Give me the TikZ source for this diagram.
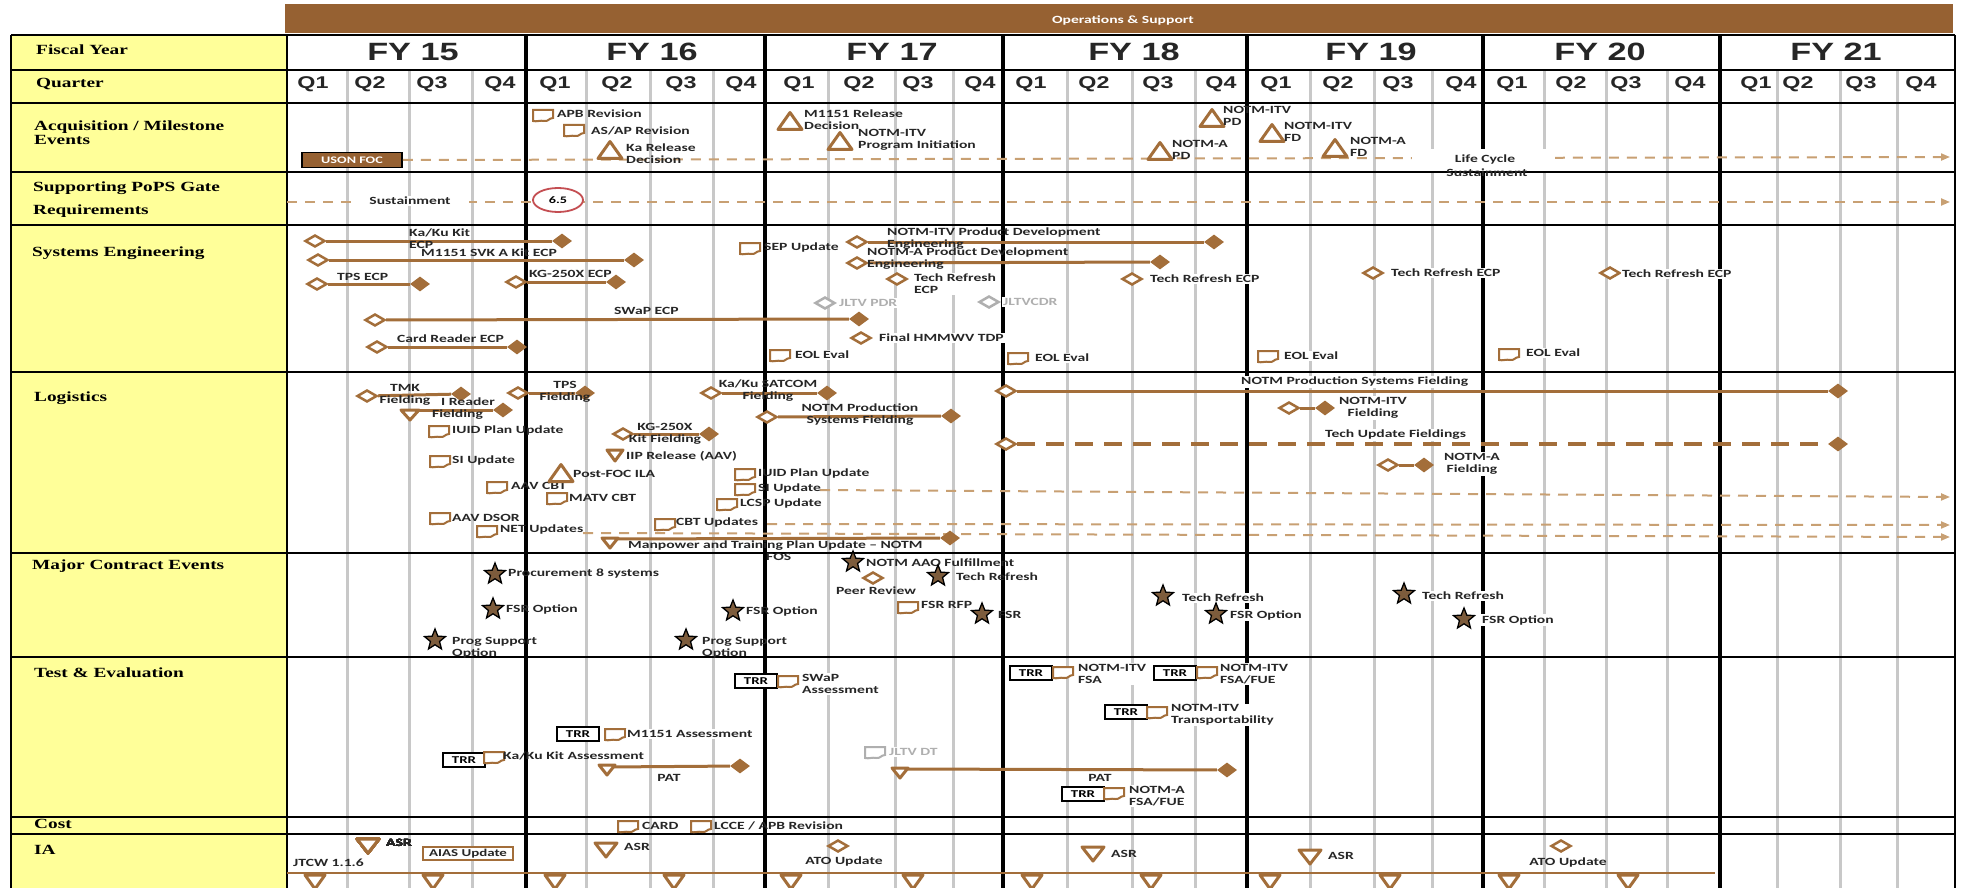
\documentclass[tikz,border=0pt]{standalone}
\usepackage{fontspec}
\usetikzlibrary{shapes.geometric,arrows.meta}
\newfontfamily\labfont[FakeStretch=1.42]{Carlito}
\newfontfamily\hdfont[FakeStretch=1.37]{Liberation Sans}
\newfontfamily\rowfont[FakeStretch=1.38]{Liberation Serif}
\definecolor{mbrown}{RGB}{163,110,58}
\definecolor{barbrown}{RGB}{150,97,50}
\definecolor{dtan}{RGB}{200,160,115}
\definecolor{sfill}{RGB}{125,92,60}
\definecolor{hyellow}{RGB}{255,255,153}
\definecolor{qgray}{RGB}{200,200,200}
\definecolor{ggray}{RGB}{175,175,175}
\definecolor{ltxt}{RGB}{38,38,38}
\definecolor{redc}{RGB}{196,78,82}
\tikzset{
  lab/.style={font=\labfont\bfseries\fontsize{11}{12}\selectfont, text=ltxt, inner sep=1pt, anchor=west, align=left},
  labc/.style={lab, anchor=center, align=center},
  wlab/.style={lab, fill=white},
  wlabc/.style={labc, fill=white},
  glab/.style={lab, text=ggray, fill=white},
  rowlab/.style={font=\rowfont\bfseries\fontsize{14}{14}\selectfont, anchor=west, align=left, inner sep=0pt},
  fylab/.style={font=\hdfont\bfseries\fontsize{25}{28}\selectfont, text=black!85},
  qlab/.style={font=\hdfont\bfseries\fontsize{17}{20}\selectfont, text=black!85},
  odia/.style={diamond, draw=mbrown, line width=2.5pt, fill=white, minimum width=20pt, minimum height=12pt, inner sep=0pt},
  gdia/.style={odia, draw=ggray},
  fdia/.style={diamond, fill=mbrown, minimum width=20pt, minimum height=15pt, inner sep=0pt},
  span/.style={draw=mbrown, line width=3pt},
  tdash/.style={draw=dtan, line width=2pt, dash pattern=on 10pt off 8pt},
  tdarrow/.style={tdash, -{Triangle[length=9pt,width=7pt]}},
  fdash/.style={draw=mbrown, line width=3.5pt, dash pattern=on 18pt off 11pt},
  evstar/.style={star, star points=5, star point ratio=2.3, fill=sfill, draw=black, line width=1.3pt, minimum size=22pt, inner sep=0pt},
  trrbox/.style={draw=black, line width=2pt, fill=white, minimum width=42pt, minimum height=14pt, inner sep=0pt, font=\labfont\bfseries\fontsize{10.5}{12}\selectfont},
  usbox/.style={fill=barbrown, draw=black, line width=1.5pt, minimum width=100pt, minimum height=15pt, inner sep=0pt, text=white, font=\labfont\bfseries\fontsize{10}{12}\selectfont},
  aiasbox/.style={draw=mbrown, line width=1.5pt, fill=white, minimum width=90pt, minimum height=13pt, inner sep=0pt, font=\labfont\bfseries\fontsize{10.5}{12}\selectfont, text=ltxt},
  tri/.style={draw=mbrown, line width=3pt, fill=white, line join=round},
  doc/.style={draw=mbrown, line width=2pt, fill=white},
  gdoc/.style={doc, draw=ggray},
  hline/.style={draw=black, line width=2.5pt},
  yline/.style={draw=black, line width=4pt},
  qline/.style={draw=qgray, line width=3pt},
  thin/.style={draw=mbrown, line width=2pt},
}
% up triangle centred at (x,y)
\newcommand\mUp[2]{\draw[tri, shift={(#1,#2)}] (-12,8.5) -- (0,-8.5) -- (12,8.5) -- cycle;}
% down triangle hanging from its top edge at (x,y): half width, height
\newcommand\mDown[4]{\draw[tri, shift={(#1,#2)}] (-#3,0) -- (#3,0) -- (0,#4) -- cycle;}
% document icon centred at (x,y)
\newcommand\mDoc[3][doc]{\draw[#1, shift={(#2,#3)}] (-10,-5) -- (10,-5) -- (10,3) .. controls (6,3) and (5,7) .. (1,6) .. controls (-3,5) and (-6,7) .. (-10,6) -- cycle;}

\begin{document}
\begin{tikzpicture}[x=1pt,y=-1pt]
\useasboundingbox (0,0) rectangle (1971,888);

% ---------- frame ----------
\fill[barbrown] (285,4) rectangle (1953,33);
\node[lab, anchor=center, text=white] (ops) at (1123,20) {Operations \& Support};
\fill[hyellow] (11,35) rectangle (287,888);
\foreach \q in {347,409,472,586,650,713,828,895,953,1067,1132,1195,1310,1374,1432,1544,1606,1667,1777,1840,1897}
  \draw[qline] (\q,70) -- (\q,888);
\foreach \r in {35,70,103,172,225,372,553,657,817,834}
  \draw[hline] (11,\r) -- (1955,\r);
\foreach \v in {11,287,1955}
  \draw[hline] (\v,35) -- (\v,888);
\foreach \v in {526,765,1003,1247,1483,1720}
  \draw[yline] (\v,35) -- (\v,888);

\foreach \c/\t [count=\i] in {413/15,652/16,892/17,1134/18,1371/19,1600/20,1836/21}
  \node[fylab] (fy\i) at (\c,52) {FY \t};
\foreach \c/\t [count=\i] in {313/1,370/2,432/3,500/4,555/1,617/2,681/3,741/4,799/1,859/2,918/3,980/4,1031/1,1094/2,1158/3,1221/4,1276/1,1338/2,1398/3,1461/4,1512/1,1571/2,1626/3,1690/4,1756/1,1798/2,1861/3,1921/4}
  \node[qlab] (q\i) at (\c,84) {Q\t};

\node[rowlab] (hFY) at (36,50) {Fiscal Year};
\node[rowlab] (hQ) at (36,84) {Quarter};
\node[rowlab] (hAcq) at (34,133) {Acquisition / Milestone\\Events};
\node[rowlab] (hPoPS) at (33,188) {Supporting PoPS Gate};
\node[rowlab] (hReq) at (33,211) {Requirements};
\node[rowlab] (hSE) at (32,253) {Systems Engineering};
\node[rowlab] (hLog) at (34,398) {Logistics};
\node[rowlab] (hMCE) at (32,566) {Major Contract Events};
\node[rowlab] (hTE) at (34,673) {Test \& Evaluation};
\node[rowlab] (hCost) at (34,824) {Cost};
\node[rowlab] (hIA) at (34,850) {IA};

% ---------- acquisition / milestone events ----------
\node[usbox] (uson) at (352,160) {USON FOC};
\coordinate (acqEnd) at (1950,157);
\draw[tdarrow] (uson.east) -- (acqEnd);
\node[fill=white, minimum width=143pt, minimum height=22pt, inner sep=0pt] (lcbg) at (1483.5,160) {};
\node[labc] (lc1) at (1485,160) {Life Cycle};
\node[labc] (lc2) at (1487,173) {Sustainment};
\mDoc{543}{115}
\node[lab] (apb) at (556,114) {APB Revision};
\mDoc{574}{130}
\node[lab] (asap) at (590,131) {AS/AP Revision};
\mUp{610}{150}
\node[lab] (kard) at (625,154) {Ka Release\\Decision};
\mUp{790}{121}
\node[lab] (mrd) at (803,120) {M1151 Release\\Decision};
\mUp{840}{141}
\node[lab] (itvpi) at (857,140) {NOTM-ITV\\Program Initiation};
\mUp{1212}{118}
\node[lab] (itvpd) at (1222,116) {NOTM-ITV\\PD};
\mUp{1272}{133}
\node[lab] (itvfd) at (1283,132) {NOTM-ITV\\FD};
\mUp{1160}{151}
\node[lab] (apd) at (1171,150) {NOTM-A\\PD};
\mUp{1335}{148}
\node[lab] (afd) at (1349,147) {NOTM-A\\FD};

% ---------- supporting PoPS gate requirements ----------
\coordinate (popsS) at (287,202);
\coordinate (popsE) at (1950,202);
\draw[tdarrow] (popsS) -- (popsE);
\node[labc, fill=white, minimum width=118pt] (sust) at (410,201) {Sustainment};
\node[ellipse, draw=redc, line width=1.8pt, fill=white, minimum width=50pt, minimum height=24pt, inner sep=0pt, font=\labfont\bfseries\fontsize{10}{12}\selectfont] (g65) at (558,200) {6.5};

% ---------- systems engineering ----------
\node[odia] (kk1) at (315,241) {};
\node[fdia] (kk2) at (562,241) {};
\draw[span] (kk1) -- (kk2);
\node[lab] (kkl) at (408,239) {Ka/Ku Kit\\ECP};
\node[odia] (sv1) at (318,260) {};
\node[fdia] (sv2) at (634,260) {};
\draw[span] (sv1) -- (sv2);
\node[lab] (svl) at (420,253) {M1151 SVK A Kit ECP};
\node[odia] (tp1) at (317,284) {};
\node[fdia] (tp2) at (420,284) {};
\draw[span] (tp1) -- (tp2);
\node[lab] (tpl) at (336,277) {TPS ECP};
\node[odia] (kg1) at (516,282) {};
\node[fdia] (kg2) at (616,282) {};
\draw[span] (kg1) -- (kg2);
\node[lab] (kgl) at (528,274) {KG-250X ECP};
\node[odia] (sw1) at (375,320) {};
\node[fdia] (sw2) at (859,319) {};
\draw[span] (sw1) -- (sw2);
\node[lab] (swl) at (613,311) {SWaP ECP};
\node[odia] (cr1) at (377,347) {};
\node[fdia] (cr2) at (517,347) {};
\draw[span] (cr1) -- (cr2);
\node[lab] (crl) at (396,339) {Card Reader ECP};
\mDoc{750}{248}
\node[lab] (sep) at (763,248) {SEP Update};
\node[odia] (ip1) at (857,242) {};
\node[fdia] (ip2) at (1214,242) {};
\draw[span] (ip1) -- (ip2);
\node[lab] (ipl) at (886,239) {NOTM-ITV Product Development\\Engineering};
\node[odia] (ap1) at (857,263) {};
\node[fdia] (ap2) at (1160,262) {};
\draw[span] (ap1) -- (ap2);
\node[lab] (apl) at (866,259) {NOTM-A Product Development\\Engineering};
\node[odia] (tr17) at (897,279) {};
\node[wlab] (tr17l) at (913,284) {Tech Refresh\\ECP};
\node[gdia] (pdr) at (825,303) {};
\node[glab] (pdrl) at (838,303) {JLTV PDR};
\node[gdia] (cdr) at (989,302) {};
\node[glab] (cdrl) at (1002,302) {JLTVCDR};
\node[odia] (hm) at (861,338) {};
\node[wlab] (hml) at (878,338) {Final HMMWV TDP};
\mDoc{780}{355}
\node[wlab] (eol17) at (794,355) {EOL Eval};
\mDoc{1018}{358}
\node[wlab] (eol18) at (1034,358) {EOL Eval};
\mDoc{1268}{356}
\node[wlab] (eol19) at (1283,356) {EOL Eval};
\mDoc{1509}{354}
\node[wlab] (eol20) at (1525,353) {EOL Eval};
\node[odia] (tr18) at (1132,279) {};
\node[wlab] (tr18l) at (1149,279) {Tech Refresh ECP};
\node[odia] (tr19) at (1373,273) {};
\node[wlab] (tr19l) at (1390,273) {Tech Refresh ECP};
\node[odia] (tr20) at (1610,273) {};
\node[wlab] (tr20l) at (1621,274) {Tech Refresh ECP};

% ---------- logistics ----------
\coordinate (netS) at (583,533);
\coordinate (netE) at (1950,537);
\draw[tdarrow] (netS) -- (netE);
\coordinate (cbtS) at (767,524);
\coordinate (cbtE) at (1950,525);
\draw[tdarrow] (cbtS) -- (cbtE);
\coordinate (siS) at (820,490);
\coordinate (siE) at (1950,497);
\draw[tdarrow] (siS) -- (siE);

\node[odia] (tm1) at (367,396) {};
\node[fdia] (tm2) at (461,394) {};
\draw[span] (tm1) -- (tm2);
\node[labc] (tml) at (405,395) {TMK\\Fielding};
\coordinate (ir1) at (410,410);
\node[fdia] (ir2) at (503,410) {};
\draw[span] (ir1) -- (ir2);
\mDown{410}{410}{9}{10}
\node[lab] (irl) at (431,409) {\hspace*{9pt}I Reader\\Fielding};
\node[odia] (tf1) at (518,393) {};
\node[fdia] (tf2) at (585,393) {};
\draw[span] (tf1) -- (tf2);
\node[labc] (tfl) at (565,392) {TPS\\Fielding};
\mDoc{439}{431}
\node[lab] (iuid15) at (451,431) {IUID Plan Update};
\mDoc{440}{461}
\node[lab] (si15) at (451,461) {SI Update};
\mDoc{497}{487}
\node[lab] (aavc) at (510,486) {AAV CBT};
\mDoc{440}{518}
\node[lab] (aavd) at (451,518) {AAV DSOR};
\mDoc{487}{531}
\node[lab] (net) at (499,530) {NET Updates};
\node[odia] (kf1) at (623,434) {};
\node[fdia] (kf2) at (709,434) {};
\draw[span] (kf1) -- (kf2);
\node[labc] (kfl) at (665,434) {KG-250X\\Kit Fielding};
\mDown{615}{450}{8}{11}
\node[lab] (iip) at (625,456) {IIP Release (AAV)};
\mUp{561}{473}
\node[lab] (pfoc) at (572,474) {Post-FOC ILA};
\mDoc{557}{498}
\node[lab] (matv) at (568,498) {MATV CBT};
\node[odia] (sc1) at (711,393) {};
\node[fdia] (sc2) at (827,393) {};
\draw[span] (sc1) -- (sc2);
\node[labc] (scl) at (768,391) {Ka/Ku SATCOM\\Fielding};
\node[odia] (pf1) at (767,417) {};
\node[fdia] (pf2) at (951,416) {};
\draw[span] (pf1) -- (pf2);
\node[labc] (pfl) at (860,415) {NOTM Production\\Systems Fielding};
\mDoc{745}{474}
\node[lab] (iuid17) at (757,474) {IUID Plan Update};
\mDoc{745}{489}
\node[lab] (si17) at (757,489) {SI Update};
\mDoc{727}{504}
\node[lab] (lcsp) at (739,504) {LCSP Update};
\mDoc{665}{524}
\node[lab] (cbt) at (675,523) {CBT Updates};
\coordinate (mp1) at (610,539);
\node[fdia] (mp2) at (950,538) {};
\draw[span] (mp1) -- (mp2);
\mDown{610}{538}{8}{10}
\node[lab] (mpl) at (627,546) {Manpower and Training Plan Update \textendash{} NOTM};
\node[lab] (fos) at (765,557) {FOS};
\node[odia] (np1) at (1006,391) {};
\node[fdia] (np2) at (1838,391) {};
\draw[span] (np1) -- (np2);
\node[wlab] (npl) at (1240,382) {NOTM Production Systems Fielding};
\node[odia] (vf1) at (1289,408) {};
\node[fdia] (vf2) at (1325,408) {};
\draw[span] (vf1) -- (vf2);
\node[wlabc] (vfl) at (1373,408) {NOTM-ITV\\Fielding};
\node[odia] (tu1) at (1006,444) {};
\node[fdia] (tu2) at (1838,444) {};
\draw[fdash] (tu1) -- (tu2);
\node[wlab] (tul) at (1324,435) {Tech Update Fieldings};
\node[odia] (af1) at (1388,465) {};
\node[fdia] (af2) at (1424,465) {};
\draw[span] (af1) -- (af2);
\node[wlabc] (afl) at (1472,464) {NOTM-A\\Fielding};

% ---------- major contract events ----------
\node[evstar] (s1) at (495,574) {};
\node[lab] (s1l) at (507,574) {Procurement 8 systems};
\node[evstar] (s2) at (493,609) {};
\node[lab] (s2l) at (505,609) {FSR Option};
\node[evstar] (s3) at (435,640) {};
\node[lab] (s3l) at (451,648) {Prog Support\\Option};
\node[evstar] (s4) at (733,611) {};
\node[lab] (s4l) at (745,611) {FSR Option};
\node[evstar] (s5) at (686,640) {};
\node[lab] (s5l) at (701,648) {Prog Support\\Option};
\node[evstar] (s6) at (853,562) {};
\node[lab] (s6l) at (865,563) {NOTM AAO Fulfillment};
\node[odia] (peer) at (873,578) {};
\node[labc] (peerl) at (876,591) {Peer Review};
\node[evstar] (s7) at (938,576) {};
\node[lab] (s7l) at (955,577) {Tech Refresh};
\mDoc{908}{607}
\node[lab] (rfp) at (920,605) {FSR RFP};
\node[evstar] (s8) at (982,614) {};
\node[lab] (s8l) at (997,615) {FSR};
\node[evstar] (s9) at (1163,596) {};
\node[wlab] (s9l) at (1181,598) {Tech Refresh};
\node[evstar] (s10) at (1216,614) {};
\node[wlab] (s10l) at (1229,615) {FSR Option};
\node[evstar] (s11) at (1404,594) {};
\node[wlab] (s11l) at (1421,596) {Tech Refresh};
\node[evstar] (s12) at (1464,619) {};
\node[wlab] (s12l) at (1481,620) {FSR Option};

% ---------- test & evaluation ----------
\node[trrbox] (t1) at (756,681) {TRR};
\mDoc{788}{681}
\node[wlab] (t1l) at (801,684) {SWaP\\Assessment};
\node[trrbox] (t2) at (578,734) {TRR};
\mDoc{615}{734}
\node[wlab] (t2l) at (626,734) {M1151 Assessment};
\node[trrbox] (t3) at (464,760) {TRR};
\mDoc{494}{757}
\node[lab] (t3l) at (502,756) {Ka/Ku Kit Assessment};
\coordinate (pa1) at (607,767);
\node[fdia] (pa2) at (740,766) {};
\draw[span] (pa1) -- (pa2);
\mDown{607}{765}{8}{10}
\node[labc] (pal) at (669,778) {PAT};
\mDoc[gdoc]{875}{752}
\node[glab] (jdt) at (888,752) {JLTV DT};
\coordinate (pb1) at (900,769);
\node[fdia] (pb2) at (1227,770) {};
\draw[span] (pb1) -- (pb2);
\mDown{900}{768}{8}{10}
\node[labc] (pbl) at (1100,778) {PAT};
\node[trrbox] (t4) at (1031,673) {TRR};
\mDoc{1063}{672}
\node[wlab] (t4l) at (1077,674) {NOTM-ITV\\FSA};
\node[trrbox] (t5) at (1175,673) {TRR};
\mDoc{1207}{672}
\node[wlab] (t5l) at (1219,674) {NOTM-ITV\\FSA/FUE};
\node[trrbox] (t6) at (1126,712) {TRR};
\mDoc{1157}{712}
\node[wlab] (t6l) at (1170,715) {NOTM-ITV\\Transportability};
\node[trrbox] (t7) at (1083,794) {TRR};
\mDoc{1114}{793}
\node[wlab] (t7l) at (1128,796) {NOTM-A\\FSA/FUE};

% ---------- cost ----------
\mDoc{628}{826}
\node[lab] (card) at (641,826) {CARD};
\mDoc{701}{826}
\node[lab] (lcce) at (713,826) {LCCE / APB Revision};

% ---------- IA ----------
\coordinate (iaS) at (287,873);
\coordinate (iaE) at (1715,873);
\draw[thin] (iaS) -- (iaE);
\foreach \x in {315,433,555,674,791,913,1032,1151,1270,1390,1509,1628}
  \mDown{\x}{875}{10}{14}
\mDown{368}{839}{11}{14}
\node[lab] (asr1) at (385,843) {ASR};
\node[aiasbox] (aias) at (468,853.5) {AIAS Update};
\node[lab] (jtcw) at (292,863) {JTCW 1.1.6};
\mDown{606}{843}{11}{14}
\node[lab] (asr2) at (623,847) {ASR};
\node[odia] (ato1) at (838,846) {};
\node[labc] (ato1l) at (844,861) {ATO Update};
\mDown{1093}{847}{11}{14}
\node[lab] (asr3) at (1110,854) {ASR};
\mDown{1310}{850}{11}{14}
\node[lab] (asr4) at (1327,856) {ASR};
\node[odia] (ato2) at (1561,846) {};
\node[labc] (ato2l) at (1568,862) {ATO Update};
\end{tikzpicture}
\end{document}
